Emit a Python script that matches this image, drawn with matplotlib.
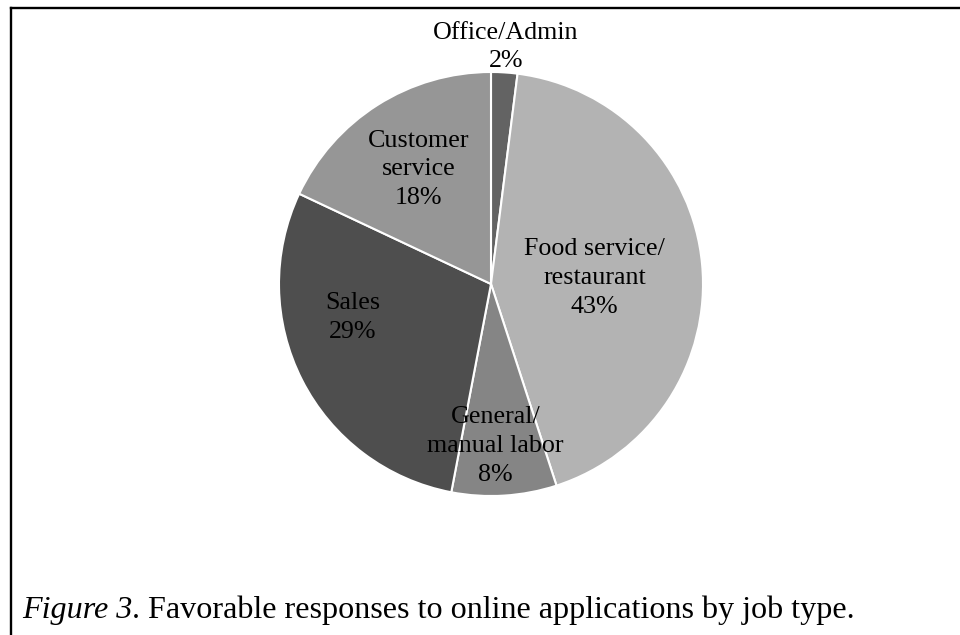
import numpy as np
import matplotlib.pyplot as plt
from matplotlib.lines import Line2D

# Job types, clockwise from 12 o'clock
job_types = ['Office/Admin', 'Food service/\nrestaurant', 'General/\nmanual labor',
             'Sales', 'Customer\nservice']
shares = [2, 43, 8, 29, 18]
slice_colors = ['#636363', '#b3b3b3', '#858585', '#4e4e4e', '#969696']

# label placement: radial distance and small angular nudge per slice
label_dist = [1.12, 0.49, 0.765, 0.67, 0.64]
label_nudge = [0, -2, -2, -13.5, 0]

plt.rcParams['font.family'] = 'Liberation Serif'

W, H = 960, 635
fig = plt.figure(figsize=(W / 100, H / 100), dpi=100)

# pie centre and radius in pixels
cx, cy, r = 491, 284, 212
ax = fig.add_axes([(cx - r) / W, (H - cy - r) / H, 2 * r / W, 2 * r / H])

wedges, _ = ax.pie(shares, colors=slice_colors, startangle=90, counterclock=False,
                   radius=1, wedgeprops=dict(edgecolor='white', linewidth=1.5))
ax.set_xlim(-1, 1)
ax.set_ylim(-1, 1)
ax.set_aspect('equal')
ax.axis('off')

for w, name, val, d, nudge in zip(wedges, job_types, shares, label_dist, label_nudge):
    ang = np.deg2rad((w.theta1 + w.theta2) / 2 + nudge)
    ax.text(d * np.cos(ang), d * np.sin(ang), f'{name}\n{val}%',
            ha='center', va='center', multialignment='center',
            fontsize=18.7, linespacing=1.4, color='black', clip_on=False)

# frame lines along top and left
fig.add_artist(Line2D([11 / W, 11 / W], [0, 1 - 7.8 / H], transform=fig.transFigure,
                      color='black', linewidth=1.7, solid_capstyle='projecting'))
fig.add_artist(Line2D([11 / W, 1], [1 - 7.8 / H, 1 - 7.8 / H], transform=fig.transFigure,
                      color='black', linewidth=1.7, solid_capstyle='projecting'))

# caption: italic figure number followed by the description
cap = fig.text(22 / W, 1 - 607 / H, 'Figure 3', fontsize=23.1, style='italic',
               va='center_baseline', ha='left')
fig.canvas.draw()
ax.annotate('. Favorable responses to online applications by job type.',
            xy=(1, 0), xycoords=cap, fontsize=23.1, va='bottom', ha='left',
            annotation_clip=False)

fig.savefig('out.png', dpi=100)
